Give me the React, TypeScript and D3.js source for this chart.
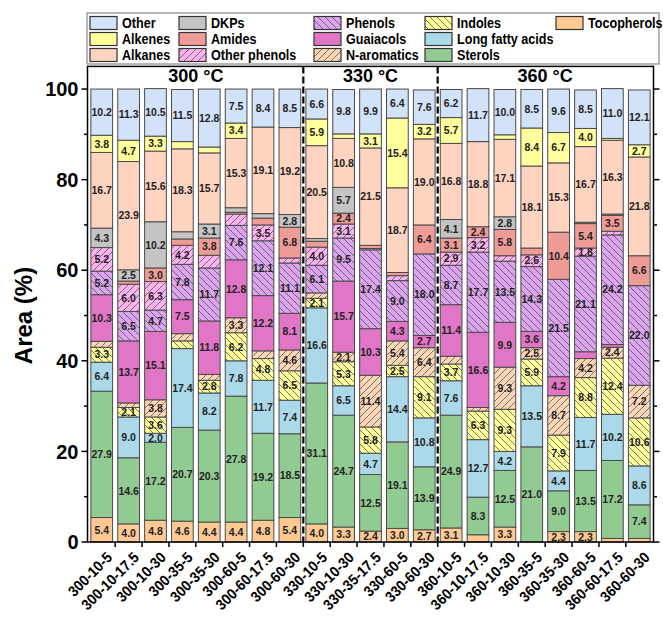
import React from 'react';
import * as d3 from 'd3';

// bar names: temperature-time-ratio
const categories = [
  '300-10-5', '300-10-17.5', '300-10-30', '300-35-5', '300-35-30', '300-60-5', '300-60-17.5', '300-60-30',
  '330-10-5', '330-10-30', '330-35-17.5', '330-60-5', '330-60-30',
  '360-10-5', '360-10-17.5', '360-10-30', '360-35-5', '360-35-30', '360-60-5', '360-60-17.5', '360-60-30',
];

// series, stacked bottom -> top
const tocopherols = [5.4, 4.0, 4.8, 4.6, 4.4, 4.4, 4.8, 5.4, 4.0, 3.3, 2.4, 3.0, 2.7, 3.1, 1.6, 3.3, 0, 2.3, 2.3, 0.8, 0.8];
const sterols = [27.9, 14.6, 17.2, 20.7, 20.3, 27.8, 19.2, 18.5, 31.1, 24.7, 12.5, 19.1, 13.9, 24.9, 8.3, 12.5, 21.0, 9.0, 13.5, 17.2, 7.4];
const longFattyAcids = [6.4, 9.0, 2.0, 17.4, 8.2, 7.8, 11.7, 7.4, 16.6, 6.5, 4.7, 14.4, 10.8, 7.6, 12.7, 4.2, 13.5, 4.4, 11.7, 10.2, 8.6];
const indoles = [3.3, 2.1, 3.6, 1.7, 2.8, 6.2, 4.8, 6.5, 2.1, 5.3, 5.8, 2.5, 9.1, 3.7, 6.3, 9.3, 5.9, 7.9, 8.8, 12.4, 10.6];
const nAromatics = [1.3, 1.0, 3.8, 1.6, 1.3, 3.3, 1.7, 4.6, 1.2, 2.1, 11.4, 5.4, 6.4, 1.7, 0.8, 9.3, 2.5, 8.7, 4.2, 2.4, 7.2];
const guaiacols = [10.3, 13.7, 15.1, 7.5, 11.8, 12.8, 12.2, 8.1, 0, 15.7, 10.3, 4.3, 2.7, 11.4, 16.6, 9.9, 3.6, 4.2, 1.5, 0.6, 0];
const phenols = [5.2, 6.5, 4.7, 7.8, 11.7, 7.6, 12.1, 11.1, 6.1, 9.5, 17.4, 9.0, 18.0, 8.7, 17.7, 13.5, 14.3, 21.5, 21.1, 24.2, 22.0];
const otherPhenols = [5.2, 6.0, 6.3, 4.2, 2.8, 2.5, 3.5, 1.1, 4.0, 3.1, 0.3, 1.1, 0, 2.9, 3.2, 1.2, 2.6, 0, 1.8, 0.8, 0];
const amides = [0, 0.7, 3.0, 1.4, 3.8, 0.4, 1.5, 6.8, 1.3, 2.4, 0.7, 0.7, 6.4, 3.1, 2.4, 5.8, 1.5, 10.4, 5.4, 3.5, 6.6];
const dkps = [4.3, 2.5, 10.2, 1.6, 3.1, 1.0, 1.0, 2.8, 0.6, 5.7, 0, 0, 0, 4.1, 0, 2.8, 0, 0, 0.3, 0.3, 0];
const alkanes = [16.7, 23.9, 15.6, 18.3, 15.7, 15.3, 19.1, 19.2, 20.5, 10.8, 21.5, 18.7, 19.0, 16.8, 18.8, 17.1, 18.1, 15.3, 16.7, 16.3, 21.8];
const alkenes = [3.8, 4.7, 3.3, 1.6, 1.3, 3.4, 0, 0, 5.9, 1.0, 3.1, 15.4, 3.2, 5.7, 0, 1.0, 8.4, 6.7, 4.0, 0.4, 2.7];
const other = [10.2, 11.3, 10.5, 11.5, 12.8, 7.5, 8.4, 8.5, 6.6, 9.8, 9.9, 6.4, 7.6, 6.2, 11.7, 10.0, 8.5, 9.6, 8.5, 11.0, 12.1];

const seriesNames = ['Tocopherols', 'Sterols', 'Long fatty acids', 'Indoles', 'N-aromatics', 'Guaiacols',
  'Phenols', 'Other phenols', 'Amides', 'DKPs', 'Alkanes', 'Alkenes', 'Other'];
const seriesValues = [tocopherols, sterols, longFattyAcids, indoles, nAromatics, guaiacols,
  phenols, otherPhenols, amides, dkps, alkanes, alkenes, other];

const yTicks = [0, 20, 40, 60, 80, 100];

// legend layout, column by column
const legendColumns = [
  ['Other', 'Alkenes', 'Alkanes'],
  ['DKPs', 'Amides', 'Other phenols'],
  ['Phenols', 'Guaiacols', 'N-aromatics'],
  ['Indoles', 'Long fatty acids', 'Sterols'],
  ['Tocopherols'],
];

const colors: Record<string, string> = {
  'Other': '#d2e2f8',
  'Alkenes': '#ffff9c',
  'Alkanes': '#fed3bf',
  'DKPs': '#c4c4c4',
  'Amides': '#ef9c96',
  'Other phenols': '#feb3f0',
  'Phenols': '#dca4ee',
  'Guaiacols': '#e176c6',
  'N-aromatics': '#fed6b6',
  'Indoles': '#ffff9c',
  'Long fatty acids': '#abd9ea',
  'Sterols': '#92cb92',
  'Tocopherols': '#fec993',
};
const hatch: Record<string, string> = {
  'Other phenols': 'fwd',
  'N-aromatics': 'fwd',
  'Phenols': 'back',
  'Indoles': 'back',
};
// labels the original leaves out even though the segment is large enough
const hiddenLabels = new Set(['300-35-30|Other phenols', '300-60-5|Other phenols']);

const W = 663;
const H = 621;
const FONT = '"Liberation Sans", Arial, sans-serif';

const patId = (name: string) => 'pat-' + name.replace(/[^a-z]/gi, '');
const fillOf = (name: string) => (hatch[name] ? `url(#${patId(name)})` : colors[name]);

export default function App() {
  const x = d3.scaleBand<string>().domain(categories).range([87.5, 653.5]).paddingInner(0.192).paddingOuter(0.126);
  const y = d3.scaleLinear().domain([0, 105]).range([542, 66.4]);

  const table = categories.map((c, i) => {
    const row: Record<string, any> = { cat: c };
    seriesNames.forEach((s, k) => { row[s] = seriesValues[k][i]; });
    return row;
  });
  const stacked = d3.stack<any>().keys(seriesNames)(table);

  const step = x.step();
  const groupOf = (c: string) => c.split('-')[0];
  const groups = Array.from(new Set(categories.map(groupOf)));
  const separators: number[] = [];
  categories.forEach((c, i) => {
    if (i > 0 && groupOf(c) !== groupOf(categories[i - 1])) separators.push(x(c)! - (step - x.bandwidth()) / 2);
  });

  const minorTicks = d3.range(10, 100, 20);
  const [x0, x1] = x.range();

  return (
    <svg width={W} height={H} style={{ position: 'absolute', left: 0, top: 0, background: '#fff' }} fontFamily={FONT}>
      <defs>
        {Object.keys(hatch).map((name) => (
          <pattern key={name} id={patId(name)} patternUnits="userSpaceOnUse" width={7} height={7}>
            <rect width={7} height={7} fill={colors[name]} />
            <path
              d={hatch[name] === 'back'
                ? 'M0,0L7,7M-2,5L2,9M5,-2L9,2'
                : 'M0,7L7,0M-2,2L2,-2M5,9L9,5'}
              stroke="#555" strokeWidth={0.8}
            />
          </pattern>
        ))}
      </defs>

      {/* bars */}
      {stacked.map((layer) => (
        <g key={layer.key}>
          {layer.map((d, i) => {
            const v = d[1] - d[0];
            if (v <= 0) return null;
            return (
              <rect key={i} x={x(categories[i])} y={y(d[1])} width={x.bandwidth()} height={y(d[0]) - y(d[1])}
                fill={fillOf(layer.key)} stroke="#4a4a4a" strokeWidth={1} />
            );
          })}
        </g>
      ))}

      {/* value labels */}
      {stacked.map((layer) => (
        <g key={'l' + layer.key}>
          {layer.map((d, i) => {
            const v = d[1] - d[0];
            if (v < 1.8 || hiddenLabels.has(categories[i] + '|' + layer.key)) return null;
            return (
              <text key={i} x={x(categories[i])! + x.bandwidth() / 2} y={(y(d[0]) + y(d[1])) / 2}
                dy="0.36em" textAnchor="middle" fontSize={10.5} fontWeight="bold" fill="#222">
                {v.toFixed(1)}
              </text>
            );
          })}
        </g>
      ))}

      {/* group separators */}
      {separators.map((sx, i) => (
        <line key={'s' + i} x1={sx} x2={sx} y1={y(105)} y2={y(0)} stroke="#000" strokeWidth={2.2} strokeDasharray="7,3" />
      ))}

      {/* group titles */}
      {groups.map((g) => {
        const cats = categories.filter((c) => groupOf(c) === g);
        const cx = (x(cats[0])! + x(cats[cats.length - 1])! + x.bandwidth()) / 2;
        return (
          <text key={g} x={cx} y={82} textAnchor="middle" fontSize={18} fontWeight="bold">{`${g} °C`}</text>
        );
      })}

      {/* frame */}
      <rect x={x0} y={y(105)} width={x1 - x0} height={y(0) - y(105)} fill="none" stroke="#000" strokeWidth={1.5} />

      {/* y ticks */}
      {yTicks.map((t) => (
        <g key={'y' + t}>
          <line x1={x0 - 6} x2={x0} y1={y(t)} y2={y(t)} stroke="#000" strokeWidth={1.5} />
          <line x1={x1} x2={x1 + 6} y1={y(t)} y2={y(t)} stroke="#000" strokeWidth={1.5} />
          <text x={x0 - 9} y={y(t)} dy="0.36em" textAnchor="end" fontSize={20} fontWeight="bold">{t}</text>
        </g>
      ))}
      {minorTicks.map((t) => (
        <g key={'m' + t}>
          <line x1={x0 - 3.5} x2={x0} y1={y(t)} y2={y(t)} stroke="#000" strokeWidth={1.5} />
          <line x1={x1} x2={x1 + 3.5} y1={y(t)} y2={y(t)} stroke="#000" strokeWidth={1.5} />
        </g>
      ))}

      {/* x ticks and labels */}
      {categories.map((c, i) => {
        const bx = x(c)! - (step - x.bandwidth()) / 2;
        const cx = x(c)! + x.bandwidth() / 2;
        return (
          <g key={'x' + c}>
            {i > 0 && <line x1={bx} x2={bx} y1={y(0)} y2={y(0) + 5} stroke="#000" strokeWidth={1.5} />}
            <text transform={`translate(${cx + 4},${y(0) + 9}) rotate(-45) scale(0.92,1)`} textAnchor="end"
              dy="0.7em" fontSize={15} fontWeight="bold">{c}</text>
          </g>
        );
      })}

      {/* y title */}
      <text transform={`translate(32,${(y(0) + y(100)) / 2}) rotate(-90)`} textAnchor="middle" fontSize={24}
        fontWeight="bold">Area (%)</text>

      {/* legend */}
      <rect x={87} y={13} width={572} height={51} fill="#fff" stroke="#888" strokeWidth={1.2} />
      {legendColumns.map((col, ci) => {
        const sx = [90, 179, 314, 425, 556][ci];
        return col.map((name, ri) => {
          const ry = 23 + ri * 16;
          return (
            <g key={name}>
              <rect x={sx} y={ry - 6.5} width={27} height={13} fill={fillOf(name)} stroke="#333" strokeWidth={1.2} />
              <text transform={`translate(${sx + 32},${ry}) scale(0.84,1)`} dy="0.36em" fontSize={15}
                fontWeight="bold">{name}</text>
            </g>
          );
        });
      })}
    </svg>
  );
}
